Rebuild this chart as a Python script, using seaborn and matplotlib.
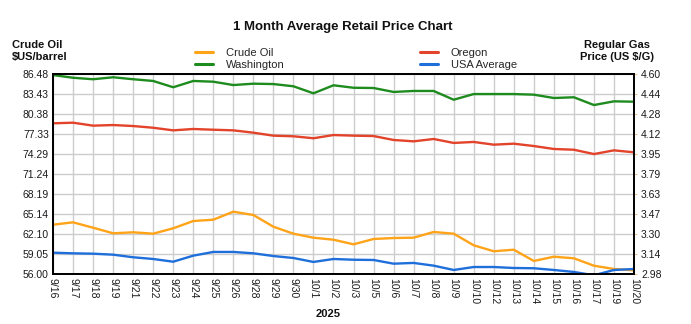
import numpy as np
import pandas as pd
import matplotlib
matplotlib.use("Agg")
import matplotlib.pyplot as plt
import seaborn as sns
from matplotlib.lines import Line2D

sns.set_theme(style="white")
plt.rcParams['font.family'] = ['Liberation Sans', 'DejaVu Sans']

dates = ["9/16","9/17","9/18","9/19","9/21","9/22","9/23","9/24","9/25","9/26",
         "9/28","9/29","9/30","10/1","10/2","10/3","10/5","10/6","10/7","10/8",
         "10/9","10/10","10/12","10/13","10/14","10/15","10/16","10/17","10/19","10/20"]

crude_oil = [63.56, 63.92, 63.10, 62.25, 62.40, 62.19, 63.01, 64.12, 64.32, 65.54,
             65.04, 63.25, 62.19, 61.58, 61.27, 60.57, 61.38, 61.53, 61.58, 62.45,
             62.19, 60.42, 59.51, 59.75, 58.03, 58.68, 58.44, 57.31, 56.81, 56.61]
washington = [4.594, 4.572, 4.560, 4.576, 4.560, 4.546, 4.495, 4.546, 4.540, 4.513,
              4.524, 4.521, 4.503, 4.446, 4.511, 4.491, 4.489, 4.457, 4.465, 4.465,
              4.394, 4.440, 4.440, 4.440, 4.435, 4.408, 4.414, 4.351, 4.381, 4.378]
oregon = [4.203, 4.208, 4.184, 4.189, 4.181, 4.167, 4.146, 4.157, 4.151, 4.146,
          4.127, 4.103, 4.098, 4.082, 4.108, 4.103, 4.100, 4.068, 4.057, 4.076,
          4.044, 4.052, 4.030, 4.038, 4.019, 3.995, 3.989, 3.954, 3.984, 3.968]
usa_average = [3.155, 3.150, 3.147, 3.139, 3.118, 3.104, 3.082, 3.131, 3.161, 3.161,
               3.150, 3.128, 3.112, 3.080, 3.104, 3.098, 3.096, 3.066, 3.072, 3.050,
               3.015, 3.039, 3.039, 3.031, 3.029, 3.015, 2.999, 2.972, 3.015, 3.023]

left_ticks = ["56.00","59.05","62.10","65.14","68.19","71.24","74.29","77.33","80.38","83.43","86.48"]
right_ticks = ["2.98","3.14","3.30","3.47","3.63","3.79","3.95","4.12","4.28","4.44","4.60"]

c_crude = "#FFA319"
c_wa = "#1E8B1E"
c_or = "#E2432A"
c_us = "#1F6FDB"

df = pd.DataFrame({"pos": np.arange(len(dates)), "date": dates, "crude": crude_oil,
                   "wa": washington, "or": oregon, "us": usa_average})

W, H = 691, 324
fig = plt.figure(figsize=(W/100, H/100), dpi=100)
L, R, T, B = 53, 634, 74.3, 274.3
ax = fig.add_axes([L/W, 1 - B/H, (R-L)/W, (B-T)/H])
ax2 = ax.twinx()

fs = 7.5
tc = "#1a1a1a"

lv = [float(v) for v in left_ticks]
rv = [float(v) for v in right_ticks]
ax.set_ylim(lv[0], lv[-1])
ax2.set_ylim(rv[0], rv[-1])
ax.set_xlim(0, len(dates) - 1)

ax.set_yticks(np.linspace(lv[0], lv[-1], len(left_ticks)))
ax.set_yticklabels(left_ticks, fontsize=fs, color=tc)
ax2.set_yticks(np.linspace(rv[0], rv[-1], len(right_ticks)))
ax2.set_yticklabels(right_ticks, fontsize=fs, color=tc)
ax.set_xticks(df["pos"])
ax.set_xticklabels(dates, rotation=-90, fontsize=fs, color=tc)

ax.grid(True, color="#cccccc", linewidth=1)
ax.set_axisbelow(True)
ax.tick_params(axis="both", length=0, pad=3)
ax2.tick_params(axis="y", length=2, width=0.8, color="#f0c090", pad=3)
ax2.grid(False)

for a in (ax, ax2):
    for s in a.spines.values():
        s.set_color("black")
        s.set_linewidth(1.3)

lw = 1.7
sns.lineplot(data=df, x="pos", y="crude", ax=ax, color=c_crude, linewidth=lw)
sns.lineplot(data=df, x="pos", y="wa", ax=ax2, color=c_wa, linewidth=lw)
sns.lineplot(data=df, x="pos", y="or", ax=ax2, color=c_or, linewidth=lw)
sns.lineplot(data=df, x="pos", y="us", ax=ax2, color=c_us, linewidth=lw)
ax.set_xlabel("")
ax.set_ylabel("")
ax2.set_ylabel("")
ax2.set_xlabel("")

fig.text(343/W, 1 - 27/H, "1 Month Average Retail Price Chart", ha="center", va="center",
         fontsize=9.5, fontweight="bold", color="#111111")
fig.text(12/W, 1 - 51/H, "Crude Oil\n$US/barrel", ha="left", va="center",
         fontsize=8, fontweight="bold", color="#111111", linespacing=1.25)
fig.text(617/W, 1 - 51/H, "Regular Gas\nPrice (US $/G)", ha="center", va="center",
         fontsize=8, fontweight="bold", color="#111111", linespacing=1.25)
fig.text(328/W, 1 - 314/H, "2025", ha="center", va="center",
         fontsize=8, fontweight="bold", color="#111111")

h1 = [Line2D([], [], color=c_crude, lw=2.2), Line2D([], [], color=c_wa, lw=2.2)]
h2 = [Line2D([], [], color=c_or, lw=2.2), Line2D([], [], color=c_us, lw=2.2)]
kw = dict(frameon=False, fontsize=8, handlelength=1.7, handletextpad=1.1,
          labelspacing=0.25, borderpad=0, loc="center left")
fig.legend(h1, ["Crude Oil", "Washington"], bbox_to_anchor=(189/W, 1 - 59/H), **kw)
fig.legend(h2, ["Oregon", "USA Average"], bbox_to_anchor=(414/W, 1 - 59/H), **kw)

fig.savefig("out.png", dpi=100)
